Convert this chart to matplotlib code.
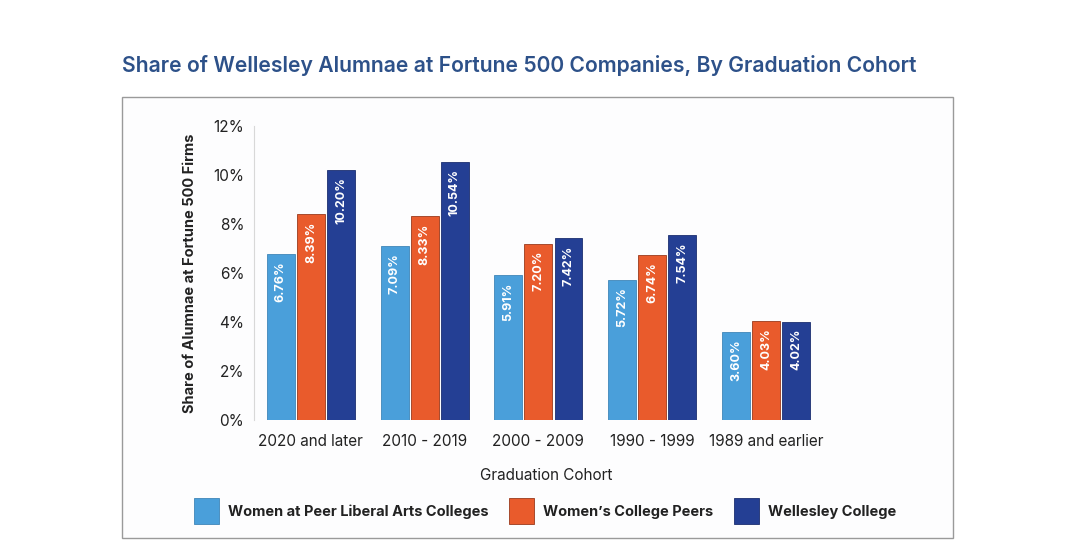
import matplotlib
matplotlib.use("Agg")
import matplotlib.pyplot as plt
from matplotlib.patches import Rectangle, Patch
import numpy as np

categories = ["2020 and later", "2010 - 2019", "2000 - 2009", "1990 - 1999", "1989 and earlier"]
series_names = ["Women at Peer Liberal Arts Colleges", "Women\u2019s College Peers", "Wellesley College"]
peer_lac = [6.76, 7.09, 5.91, 5.72, 3.60]
womens_peers = [8.39, 8.33, 7.20, 6.74, 4.03]
wellesley = [10.20, 10.54, 7.42, 7.54, 4.02]
yticks = [0, 2, 4, 6, 8, 10, 12]

colors = ["#4A9FDA", "#E95B2C", "#243F94"]
edges = ["#3F86B8", "#9A3A1C", "#1B2F70"]

plt.rcParams['font.family'] = ['Inter', 'DejaVu Sans']

W, H = 1080, 560
fig = plt.figure(figsize=(W / 100, H / 100), dpi=100)
fig.patch.set_facecolor("white")

def fx(px):
    return px / W

def fy(py):
    return 1 - py / H

# frame box
fig.patches.append(Rectangle((fx(122), fy(538)), fx(953) - fx(122), fy(97) - fy(538),
                             transform=fig.transFigure, facecolor="#FDFDFE",
                             edgecolor="#9A9A9A", linewidth=1.0, zorder=-10))

fig.text(fx(122), fy(65), "Share of Wellesley Alumnae at Fortune 500 Companies, By Graduation Cohort",
         fontsize=15.2, fontweight="semibold", color="#2D5189", ha="left", va="center")

ax = fig.add_axes([fx(254), fy(420), fx(830) - fx(254), fy(126) - fy(420)])
ax.set_facecolor("none")
ax.set_zorder(2)

x = np.arange(len(categories))
width = 0.245
offset = 0.264
data = [peer_lac, womens_peers, wellesley]
for i, (vals, c, e) in enumerate(zip(data, colors, edges)):
    pos = x + (i - 1) * offset
    ax.bar(pos, vals, width=width, color=c, edgecolor=e, linewidth=0.6, zorder=2)
    for xp, v in zip(pos, vals):
        ax.text(xp, v - 0.3, f"{v:.2f}%", rotation=90, ha="center", va="top",
                color="white", fontsize=9, fontweight="bold", zorder=3)

ax.set_xlim(-0.5, (830 - 311) / 113.75)
ax.set_ylim(0, 12)
ax.set_yticks(yticks)
ax.set_yticklabels([f"{t}%" for t in yticks], fontsize=11, color="#222222")
ax.set_xticks(x)
ax.set_xticklabels(categories, fontsize=11, color="#222222")
ax.tick_params(axis="both", length=0)
ax.tick_params(axis="y", pad=7)
ax.tick_params(axis="x", pad=10)
for s in ["top", "right", "bottom"]:
    ax.spines[s].set_visible(False)
ax.spines["left"].set_color("#D8D8D8")
ax.spines["left"].set_linewidth(0.8)

ax.set_ylabel("Share of Alumnae at Fortune 500 Firms", fontsize=10.5, fontweight="bold",
              color="#222222", labelpad=12)
fig.text(fx(546), fy(476), "Graduation Cohort", fontsize=11, color="#222222",
         ha="center", va="center")

handles = [Patch(facecolor=c, edgecolor=e, linewidth=0.6) for c, e in zip(colors, edges)]
leg = fig.legend(handles, series_names, loc="center", bbox_to_anchor=(fx(545), fy(511)),
                 ncol=3, frameon=False, handlelength=1.75, handleheight=2.3,
                 handletextpad=0.6, columnspacing=1.4,
                 prop={"size": 10.5, "weight": "bold"})
for t in leg.get_texts():
    t.set_color("#222222")

fig.savefig("out.png", dpi=100, facecolor="white")
